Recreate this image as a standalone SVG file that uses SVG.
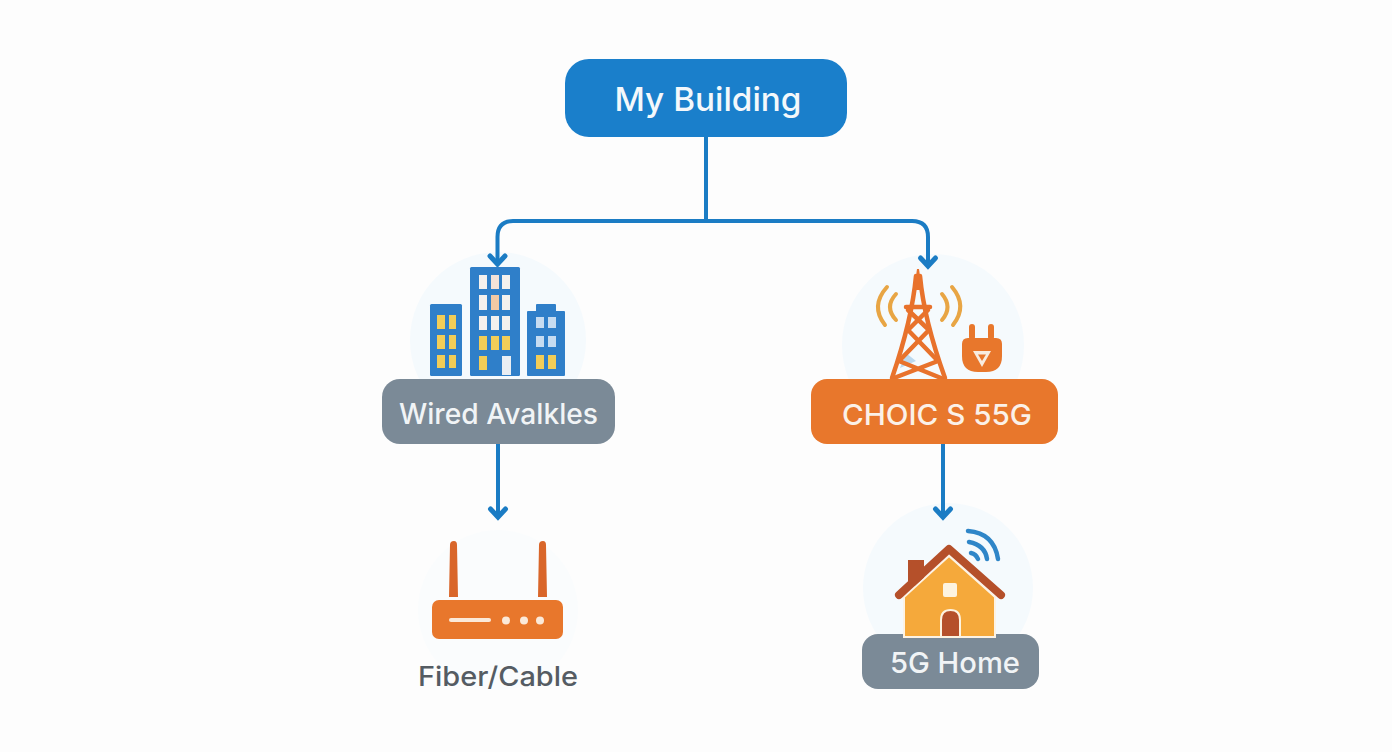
<svg xmlns="http://www.w3.org/2000/svg" width="1392" height="752" viewBox="0 0 1392 752">
<style>
text{font-family:"Inter","Liberation Sans",sans-serif;text-anchor:middle;font-weight:500}
.lab{fill:#f1f4f6;font-size:29px}
.conn{fill:none;stroke:#1b7cc4;stroke-width:4;stroke-linecap:round;stroke-linejoin:round}
.head{fill:none;stroke:#1b7cc4;stroke-width:5;stroke-linecap:round;stroke-linejoin:miter}
.halo{fill:#f5fafd}
.bld{fill:#2f7fc9}
.y{fill:#f2cd57}
.w{fill:#f4f1ee}
.b{fill:#c6dcf1}
.wave{fill:none;stroke:#e8a544;stroke-width:4;stroke-linecap:round}
.tw{fill:none;stroke:#e8722c;stroke-width:4.500;stroke-linecap:round;stroke-linejoin:round}
.wifi{fill:none;stroke:#2f86c8;stroke-width:4.500;stroke-linecap:round}
</style>
<rect width="1392" height="752" fill="#fdfdfd"/>
<g id="halos">
<circle class="halo" cx="498" cy="340" r="88"/>
<circle class="halo" cx="933" cy="345" r="91"/>
<circle class="halo" cx="948" cy="588" r="85"/>
<circle cx="498" cy="610" r="80" fill="#fafcfd"/>
</g>
<g id="connectors">
<path class="conn" d="M706 137V221"/>
<path class="conn" d="M497.500 262V237Q497.500 221 513 221H912Q928 221 928 237V264"/>
<path class="head" d="M490 256L497.500 264L505 256"/>
<path class="head" d="M920.500 258L928 266L935.500 258"/>
<path class="conn" d="M498 444V516"/>
<path class="head" d="M490.500 509L498 517L505.500 509"/>
<path class="conn" d="M943 444V516"/>
<path class="head" d="M935.500 509L943 517L950.500 509"/>
</g>
<g id="my-building">
<rect x="565" y="59" width="282" height="78" rx="24" fill="#1a7fcb"/>
<text x="708" y="111" font-size="33" fill="#f4f8fb" textLength="187" lengthAdjust="spacingAndGlyphs">My Building</text>
</g>
<g id="wired">
<rect class="bld" x="430" y="304" width="32" height="72" rx="1.500"/>
<rect class="y" x="437" y="315" width="8" height="14"/><rect class="y" x="449" y="315" width="7" height="14"/>
<rect class="y" x="437" y="335" width="8" height="14"/><rect class="y" x="449" y="335" width="7" height="14"/>
<rect class="y" x="437" y="355" width="8" height="13"/><rect class="y" x="449" y="355" width="7" height="13"/>
<rect class="bld" x="470" y="267" width="50" height="109" rx="1.500"/>
<rect class="w" x="479" y="275" width="8" height="14"/><rect fill="#f3e2d8" x="491" y="275" width="8" height="14"/><rect class="w" x="502" y="275" width="8" height="14"/>
<rect class="w" x="479" y="295" width="8" height="15"/><rect fill="#f3c9a4" x="491" y="295" width="8" height="15"/><rect class="w" x="502" y="295" width="8" height="15"/>
<rect class="w" x="479" y="316" width="8" height="14"/><rect class="w" x="491" y="316" width="8" height="14"/><rect class="w" x="502" y="316" width="8" height="14"/>
<rect class="y" x="479" y="336" width="8" height="14"/><rect class="y" x="491" y="336" width="8" height="14"/><rect class="y" x="502" y="336" width="8" height="14"/>
<rect class="y" x="479" y="356" width="8" height="14"/><rect fill="#e9eef3" x="502" y="356" width="9" height="19"/>
<path class="bld" d="M528 311H536V305Q536 304 537 304H555Q556 304 556 305V311H564Q565 311 565 312V375Q565 376 564 376H528Q527 376 527 375V312Q527 311 528 311Z"/>
<rect class="b" x="536" y="317" width="8" height="11"/><rect class="b" x="548" y="317" width="8" height="11"/>
<rect class="b" x="536" y="336" width="8" height="11"/><rect class="b" x="548" y="336" width="8" height="11"/>
<rect class="y" x="536" y="355" width="8" height="14"/><rect class="y" x="548" y="355" width="8" height="14"/>
<rect x="382" y="379" width="233" height="65" rx="18" fill="#7b8a97"/>
<text class="lab" x="498.500" y="424" textLength="199" lengthAdjust="spacingAndGlyphs">Wired Avalkles</text>
</g>
<g id="choices">
<path class="wave" d="M887 287Q870 306 885 325"/>
<path class="wave" d="M896 294Q884 307 896 320"/>
<path class="wave" d="M942 294Q953 307 942 320"/>
<path class="wave" d="M952 287Q968 306 953 325"/>
<path d="M906 353L900 368L916 361Z" fill="#bcd9ef"/>
<path class="tw" d="M892 378Q912 320 916 276M945 378Q924 320 920 276"/>
<path class="tw" d="M906 307H930"/>
<path class="tw" d="M908 310L929 330L899 361L941 378M928 310L908 330L938 361L894 378"/>
<path d="M914 290L917 269H919L922 290Z" fill="#e8722c"/>
<rect x="969" y="324" width="6" height="16" rx="3" fill="#e8772c"/>
<rect x="988" y="324" width="6" height="16" rx="3" fill="#e8772c"/>
<path d="M962 344Q962 338 968 338H996Q1002 338 1002 344V356Q1002 372 986 372H978Q962 372 962 356Z" fill="#e8772c"/>
<path d="M973 351H991L982 367Z" fill="#f8ece0"/>
<path d="M978 354.500H986L982 361Z" fill="#e8772c"/>
<rect x="811" y="379" width="247" height="65" rx="16" fill="#e8772c"/>
<text class="lab" x="937" y="425" style="fill:#fbf1e8" textLength="190" lengthAdjust="spacingAndGlyphs">CHOIC S 55G</text>
</g>
<g id="fiber-cable">
<path d="M450 545Q450 541 454 541Q457 541 457 545L458 597H449Z" fill="#d9662a"/>
<path d="M539 545Q539 541 543 541Q546 541 546 545L547 597H538Z" fill="#d9662a"/>
<rect x="432" y="600" width="131" height="39" rx="7" fill="#e8772c"/>
<rect x="449" y="618" width="42" height="4" rx="2" fill="#fbe9d9"/>
<circle cx="506" cy="620.500" r="4" fill="#fbe9d9"/>
<circle cx="524" cy="620.500" r="4" fill="#fbe9d9"/>
<circle cx="540" cy="620.500" r="4" fill="#fbe9d9"/>
<text x="498" y="686" font-size="27" fill="#555c63" textLength="160" lengthAdjust="spacingAndGlyphs">Fiber/Cable</text>
</g>
<g id="home">
<rect x="862" y="634" width="177" height="55" rx="16" fill="#7b8a97"/>
<rect x="908" y="560" width="16" height="26" fill="#b5502a"/>
<path d="M904 637V597L949 556L995 597V637Z" fill="#f5a93b" stroke="#fdf3e4" stroke-width="2"/>
<path d="M899 595L949 549L1001 595" fill="none" stroke="#b5502a" stroke-width="8" stroke-linecap="round" stroke-linejoin="round"/>
<rect x="943" y="583" width="14" height="14" rx="2" fill="#fdf3e0"/>
<path d="M941 637V620Q941 610 950.500 610Q960 610 960 620V637Z" fill="#b5502a" stroke="#fdf3e0" stroke-width="2"/>
<path class="wifi" d="M968 531Q994 533 998 559"/>
<path class="wifi" d="M969 542Q985 545 987 559"/>
<path class="wifi" d="M971 553Q976 554 978 559"/>
<text class="lab" x="955" y="673" textLength="130" lengthAdjust="spacingAndGlyphs">5G Home</text>
</g>
</svg>
